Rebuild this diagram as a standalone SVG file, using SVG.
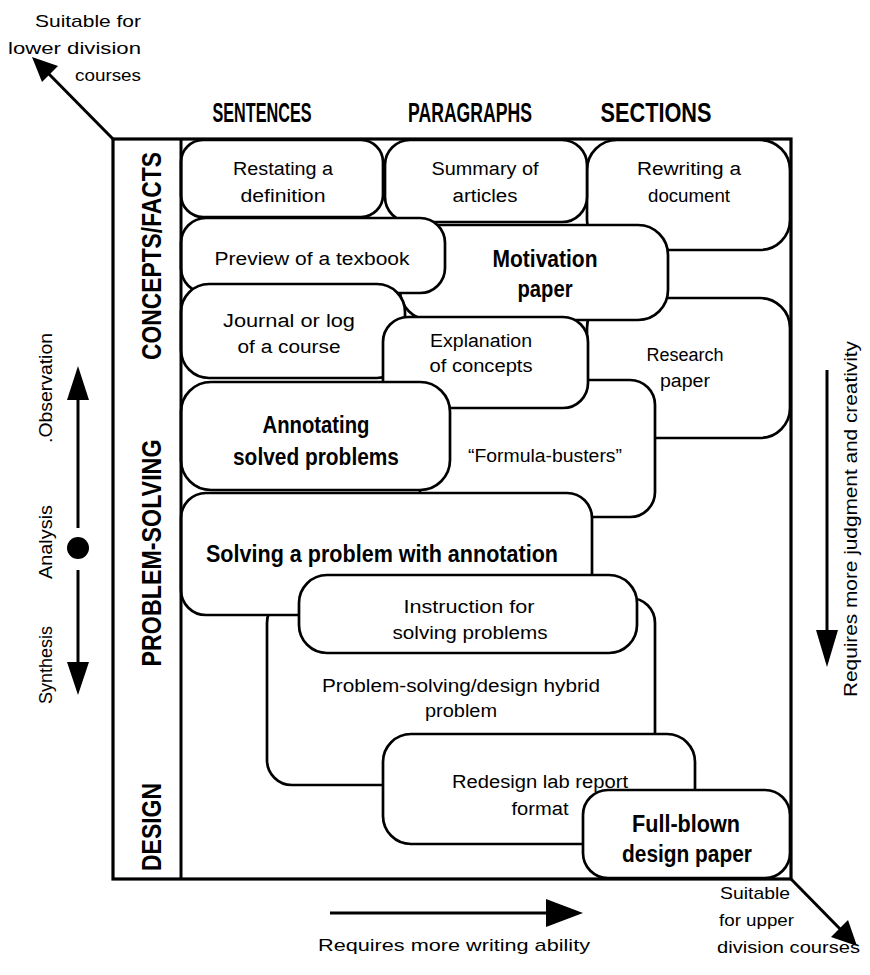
<svg xmlns="http://www.w3.org/2000/svg" width="870" height="975" viewBox="0 0 870 975">
<style>
.bg{fill:#fff}
.box{fill:#fff;stroke:#000;stroke-width:2.7}
.frame{fill:none;stroke:#000;stroke-width:3.2}
.t{font-family:"Liberation Sans",Arial,sans-serif;font-size:18px;fill:#000;text-anchor:middle}
.b{font-family:"Liberation Sans",Arial,sans-serif;font-size:24px;font-weight:bold;fill:#000;text-anchor:middle}
.h{font-family:"Liberation Sans",Arial,sans-serif;font-size:27px;font-weight:bold;fill:#000;text-anchor:middle}
.s{font-family:"Liberation Sans",Arial,sans-serif;font-size:17px;fill:#000}
.r{font-family:"Liberation Sans",Arial,sans-serif;font-size:19px;fill:#000;text-anchor:middle}
.ln{stroke:#000;stroke-width:3;fill:none}
.ah{fill:#000;stroke:none}
</style>
<rect class="bg" x="0" y="0" width="870" height="975"/>

<g id="headers">
<text class="h" x="262" y="122" textLength="99" lengthAdjust="spacingAndGlyphs">SENTENCES</text>
<text class="h" x="470" y="122" textLength="124" lengthAdjust="spacingAndGlyphs">PARAGRAPHS</text>
<text class="h" x="656" y="122" textLength="111" lengthAdjust="spacingAndGlyphs">SECTIONS</text>
</g>

<g id="rowlabels">
<text class="h" transform="translate(161,256) rotate(-90)" x="0" y="0" textLength="208" lengthAdjust="spacingAndGlyphs">CONCEPTS/FACTS</text>
<text class="h" transform="translate(161,553) rotate(-90)" x="0" y="0" textLength="227" lengthAdjust="spacingAndGlyphs">PROBLEM-SOLVING</text>
<text class="h" transform="translate(161,827) rotate(-90)" x="0" y="0" textLength="88" lengthAdjust="spacingAndGlyphs">DESIGN</text>
</g>

<g id="n-rewriting"><rect class="box" x="587" y="140" width="203" height="110" rx="30"/>
<text class="t" x="689" y="175" textLength="104" lengthAdjust="spacingAndGlyphs">Rewriting a</text>
<text class="t" x="689" y="202" textLength="82" lengthAdjust="spacingAndGlyphs">document</text></g>

<g id="n-research"><rect class="box" x="587" y="298" width="203" height="140" rx="30"/>
<text class="t" x="685" y="361" textLength="77" lengthAdjust="spacingAndGlyphs">Research</text>
<text class="t" x="685" y="387" textLength="50" lengthAdjust="spacingAndGlyphs">paper</text></g>

<g id="n-formula"><rect class="box" x="420" y="380" width="235" height="137" rx="25"/>
<text class="t" x="545" y="462" textLength="154" lengthAdjust="spacingAndGlyphs">“Formula-busters”</text></g>

<g id="n-motivation"><rect class="box" x="400" y="225" width="268" height="95" rx="30"/>
<text class="b" x="545" y="267" textLength="105" lengthAdjust="spacingAndGlyphs">Motivation</text>
<text class="b" x="545" y="297" textLength="55" lengthAdjust="spacingAndGlyphs">paper</text></g>

<g id="n-summary"><rect class="box" x="385" y="140" width="202" height="82" rx="25"/>
<text class="t" x="485" y="175" textLength="107" lengthAdjust="spacingAndGlyphs">Summary of</text>
<text class="t" x="485" y="202" textLength="65" lengthAdjust="spacingAndGlyphs">articles</text></g>

<g id="n-restating"><rect class="box" x="181" y="140" width="202" height="77" rx="22"/>
<text class="t" x="283" y="175" textLength="100" lengthAdjust="spacingAndGlyphs">Restating a</text>
<text class="t" x="283" y="202" textLength="85" lengthAdjust="spacingAndGlyphs">definition</text></g>

<g id="n-preview"><rect class="box" x="181" y="218" width="264" height="75" rx="25"/>
<text class="t" x="312" y="265" textLength="195" lengthAdjust="spacingAndGlyphs">Preview of a texbook</text></g>

<g id="n-journal"><rect class="box" x="181" y="284" width="224" height="94" rx="28"/>
<text class="t" x="289" y="327" textLength="132" lengthAdjust="spacingAndGlyphs">Journal or log</text>
<text class="t" x="289" y="353" textLength="103" lengthAdjust="spacingAndGlyphs">of a course</text></g>

<g id="n-explanation"><rect class="box" x="383" y="317" width="205" height="91" rx="25"/>
<text class="t" x="481" y="347" textLength="102" lengthAdjust="spacingAndGlyphs">Explanation</text>
<text class="t" x="481" y="372" textLength="103" lengthAdjust="spacingAndGlyphs">of concepts</text></g>

<g id="n-annotating"><rect class="box" x="181" y="382" width="269" height="108" rx="30"/>
<text class="b" x="316" y="433" textLength="107" lengthAdjust="spacingAndGlyphs">Annotating</text>
<text class="b" x="316" y="465" textLength="166" lengthAdjust="spacingAndGlyphs">solved problems</text></g>

<g id="n-hybrid"><rect class="box" x="267" y="598" width="388" height="187" rx="25"/>
<text class="t" x="461" y="692" textLength="278" lengthAdjust="spacingAndGlyphs">Problem-solving/design hybrid</text>
<text class="t" x="461" y="717" textLength="72" lengthAdjust="spacingAndGlyphs">problem</text></g>

<g id="n-solving"><rect class="box" x="181" y="493" width="411" height="122" rx="25"/>
<text class="b" x="382" y="562" textLength="352" lengthAdjust="spacingAndGlyphs">Solving a problem with annotation</text></g>

<g id="n-instruction"><rect class="box" x="299" y="575" width="338" height="78" rx="28"/>
<text class="t" x="469" y="613" textLength="131" lengthAdjust="spacingAndGlyphs">Instruction for</text>
<text class="t" x="470" y="639" textLength="155" lengthAdjust="spacingAndGlyphs">solving problems</text></g>

<g id="n-redesign"><rect class="box" x="383" y="734" width="312" height="110" rx="28"/>
<text class="t" x="540" y="788" textLength="176" lengthAdjust="spacingAndGlyphs">Redesign lab report</text>
<text class="t" x="540" y="815" textLength="57" lengthAdjust="spacingAndGlyphs">format</text></g>

<g id="n-fullblown"><rect class="box" x="583" y="790" width="207" height="88" rx="25"/>
<text class="b" x="686" y="832" textLength="108" lengthAdjust="spacingAndGlyphs">Full-blown</text>
<text class="b" x="687" y="862" textLength="130" lengthAdjust="spacingAndGlyphs">design paper</text></g>

<g id="frame">
<rect class="frame" x="113" y="139" width="678" height="740"/>
<line class="ln" x1="181" y1="139" x2="181" y2="879"/>
</g>

<g id="connectors">
<line class="ln" x1="113" y1="139" x2="44" y2="69"/>
<polygon class="ah" points="32,57 58,66 42,82"/>
<line class="ln" x1="791" y1="879" x2="845" y2="934"/>
<polygon class="ah" points="857,946 831,937 848,920"/>
<line class="ln" x1="330" y1="913" x2="550" y2="913"/>
<polygon class="ah" points="583,913 546,899 546,927"/>
<line class="ln" x1="78" y1="398" x2="78" y2="528"/>
<polygon class="ah" points="78,366 67,400 89,400"/>
<circle cx="78" cy="548" r="11" fill="#000"/>
<line class="ln" x1="78" y1="570" x2="78" y2="665"/>
<polygon class="ah" points="78,695 67,662 89,662"/>
<line class="ln" x1="827" y1="370" x2="827" y2="635"/>
<polygon class="ah" points="827,667 816,630 838,630"/>
</g>

<g id="labels">
<text class="s" x="141" y="27" text-anchor="end" textLength="106" lengthAdjust="spacingAndGlyphs">Suitable for</text>
<text class="s" x="141" y="54" text-anchor="end" textLength="133" lengthAdjust="spacingAndGlyphs">lower division</text>
<text class="s" x="141" y="81" text-anchor="end" textLength="66" lengthAdjust="spacingAndGlyphs">courses</text>
<text class="s" x="720" y="899" textLength="70" lengthAdjust="spacingAndGlyphs">Suitable</text>
<text class="s" x="719" y="926" textLength="75" lengthAdjust="spacingAndGlyphs">for upper</text>
<text class="s" x="717" y="953" textLength="143" lengthAdjust="spacingAndGlyphs">division courses</text>
<text class="s" x="454" y="951" text-anchor="middle" textLength="272" lengthAdjust="spacingAndGlyphs">Requires more writing ability</text>
<text class="r" transform="translate(52,388) rotate(-90)" textLength="110" lengthAdjust="spacingAndGlyphs">.Observation</text>
<text class="r" transform="translate(52,542) rotate(-90)" textLength="74" lengthAdjust="spacingAndGlyphs">Analysis</text>
<text class="r" transform="translate(52,665) rotate(-90)" textLength="78" lengthAdjust="spacingAndGlyphs">Synthesis</text>
<text class="r" transform="translate(857,519) rotate(-90)" textLength="356" lengthAdjust="spacingAndGlyphs">Requires more judgment and creativity</text>
</g>
</svg>
